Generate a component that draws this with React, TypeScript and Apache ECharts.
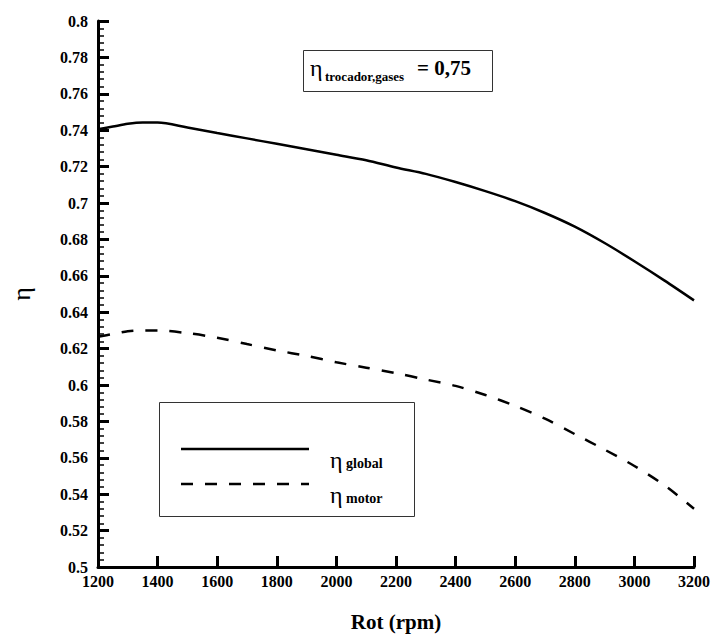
import React, { useEffect, useRef } from "react";
import * as echarts from "echarts";

const rpm = [1200, 1250, 1300, 1350, 1400, 1500, 1600, 1700, 1800, 1900, 2000, 2100, 2200, 2300, 2400, 2500, 2600, 2700, 2800, 2900, 3000, 3100, 3200];
const etaGlobal = [0.7405, 0.742, 0.7435, 0.7442, 0.7442, 0.7415, 0.7385, 0.7355, 0.7325, 0.7295, 0.7265, 0.7235, 0.7195, 0.716, 0.7115, 0.7065, 0.701, 0.6945, 0.687, 0.678, 0.668, 0.6575, 0.6465];
const etaMotor = [0.6265, 0.628, 0.6295, 0.63, 0.63, 0.6285, 0.626, 0.6225, 0.619, 0.616, 0.6125, 0.6095, 0.6065, 0.603, 0.5995, 0.5945, 0.5885, 0.5815, 0.573, 0.5645, 0.5555, 0.545, 0.532];
const seriesNames = ["global", "motor"];
const annotationLabel = "trocador,gases";
const annotationValue = "= 0,75";
const xTitle = "Rot (rpm)";
const yTitle = "η";

const FONT = "Liberation Serif";

export default function App() {
  const ref = useRef<HTMLDivElement>(null);
  useEffect(() => {
    if (!ref.current) return;
    const chart = echarts.init(ref.current, null, { renderer: "svg" });
    const label = { fontFamily: FONT, fontWeight: "bold", fontSize: 16, color: "#000" };
    const legendRows = [
      { y: 449, dash: null as number[] | null, name: seriesNames[0] },
      { y: 484, dash: [12, 12], name: seriesNames[1] },
    ];
    const graphics: any[] = [
      { type: "rect", shape: { x: 303.5, y: 50.5, width: 189, height: 41 }, style: { fill: "#fff", stroke: "#333", lineWidth: 1 }, z: 10 },
      { type: "text", x: 310, y: 68, style: { text: "η", fontFamily: FONT, fontSize: 24, fill: "#000", verticalAlign: "middle" }, z: 11 },
      { type: "text", x: 325, y: 76, style: { text: annotationLabel, fontFamily: FONT, fontWeight: "bold", fontSize: 13, fill: "#000", verticalAlign: "middle" }, z: 11 },
      { type: "text", x: 417, y: 68, style: { text: annotationValue, fontFamily: FONT, fontWeight: "bold", fontSize: 21, fill: "#000", verticalAlign: "middle" }, z: 11 },
      { type: "rect", shape: { x: 159.5, y: 402.5, width: 255, height: 114 }, style: { fill: "#fff", stroke: "#333", lineWidth: 1 }, z: 10 },
    ];
    legendRows.forEach((r) => {
      const line: any = { type: "line", shape: { x1: 181, y1: r.y, x2: 309, y2: r.y }, style: { stroke: "#000", lineWidth: 2.5 }, z: 11 };
      if (r.dash) line.style.lineDash = r.dash;
      graphics.push(line);
      graphics.push({ type: "text", x: 330, y: r.y + 11, style: { text: "η", fontFamily: FONT, fontSize: 24, fill: "#000", verticalAlign: "middle" }, z: 11 });
      graphics.push({ type: "text", x: 346, y: r.y + 14, style: { text: r.name, fontFamily: FONT, fontWeight: "bold", fontSize: 14, fill: "#000", verticalAlign: "middle" }, z: 11 });
    });
    chart.setOption({
      animation: false,
      grid: { left: 93, right: 24, top: 21, bottom: 67 },
      xAxis: {
        type: "value", min: 1200, max: 3200, interval: 200,
        name: xTitle, nameLocation: "middle", nameGap: 44,
        nameTextStyle: { fontFamily: FONT, fontWeight: "bold", fontSize: 21, color: "#000" },
        axisLine: { show: true, lineStyle: { color: "#000", width: 3 } },
        axisTick: { show: true, inside: true, length: 11, lineStyle: { color: "#000", width: 3 } },
        splitLine: { show: false },
        axisLabel: { ...label, margin: 6, formatter: (v: number) => String(v) },
      },
      yAxis: {
        type: "value", min: 0.5, max: 0.8, interval: 0.02,
        name: yTitle, nameLocation: "middle", nameGap: 64,
        nameTextStyle: { fontFamily: FONT, fontSize: 26, color: "#000" },
        axisLine: { show: true, lineStyle: { color: "#000", width: 3 } },
        axisTick: { show: true, inside: true, length: 11, lineStyle: { color: "#000", width: 3 } },
        minorTick: { show: true, splitNumber: 5, length: 6, lineStyle: { color: "#000", width: 1.5 } },
        splitLine: { show: false },
        axisLabel: { ...label, margin: 10 },
      },
      series: [
        { name: seriesNames[0], type: "line", symbol: "none", data: rpm.map((x, i) => [x, etaGlobal[i]]), lineStyle: { color: "#000", width: 2.5 }, smooth: 0.3 },
        { name: seriesNames[1], type: "line", symbol: "none", data: rpm.map((x, i) => [x, etaMotor[i]]), lineStyle: { color: "#000", width: 2.5, type: [12, 12] }, smooth: 0.3 },
      ],
      graphic: graphics,
    });
    return () => chart.dispose();
  }, []);
  return <div ref={ref} style={{ width: 718, height: 637, position: "absolute", left: 0, top: 0 }} />;
}
